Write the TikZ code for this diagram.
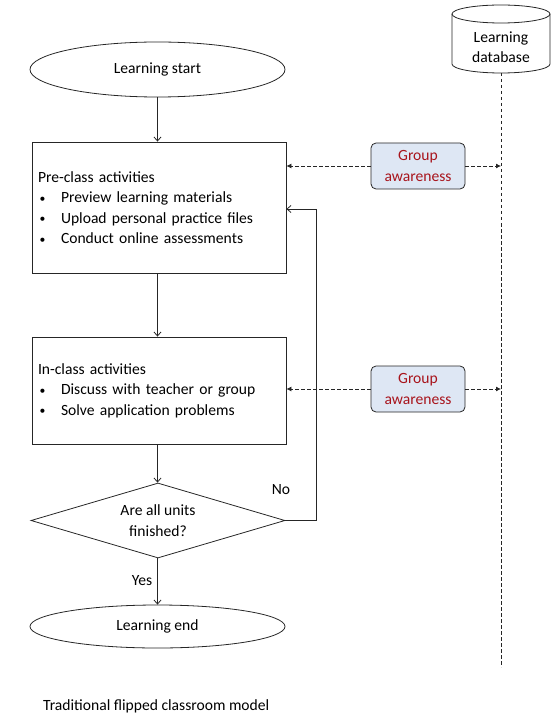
\documentclass[tikz,border=0pt]{standalone}
\usepackage{fontspec}
\setmainfont{Carlito}
\usetikzlibrary{shapes.geometric,arrows.meta}
\newcommand\itm{\makebox[23pt][l]{\hspace{1.5pt}\raisebox{0.5pt}{\scalebox{0.75}{•}}}}
\definecolor{gafill}{HTML}{DEE7F4}
\definecolor{gatext}{HTML}{A8141C}
\definecolor{ln}{HTML}{262626}
\begin{document}
\begin{tikzpicture}[x=1pt,y=-1pt,
  every node/.style={font=\fontsize{15.6}{20.5}\selectfont},
  term/.style={draw=ln, line width=0.8pt, ellipse, minimum width=255, inner sep=0pt},
  procbox/.style={draw=ln, line width=0.8pt, rectangle, minimum width=254, text width=242, inner xsep=6pt, align=left},
  decision/.style={draw=ln, line width=0.8pt, diamond, aspect=3.4, minimum width=254, minimum height=75, inner sep=0pt, align=center},
  gabox/.style={draw=ln, line width=0.8pt, rounded corners=5pt, fill=gafill, text=gatext, minimum width=94, minimum height=46, inner sep=0pt, align=center},
  arr/.style={draw=ln, line width=0.8pt, -{Straight Barb[length=4pt,width=7pt]}},
  darr/.style={draw=ln, line width=0.8pt, dash pattern=on 3.5pt off 2.5pt, -{Latex[length=5pt,width=5pt]}},
  lbl/.style={inner sep=0pt}]
\useasboundingbox (0,0) rectangle (556,727);
% main flow
\node[term, minimum height=55] (start) at (157.5,69.5) {Learning start};
\node[procbox, minimum height=131] (pre) at (159,207.5) {Pre-class activities\\
\itm Preview learning materials\\
\itm Upload personal practice files\\
\itm Conduct online assessments};
\node[procbox, minimum height=107] (in) at (159,390.5) {In-class activities\\
\itm Discuss with teacher or group\\
\itm Solve application problems};
\node[decision] (dec) at (158,520.5) {Are all units\\finished?};
\node[term, minimum height=43] (end) at (157.5,626.5) {Learning end};
\node[lbl] (yes) at (142,581) {Yes};
\node[lbl] (no) at (281,490) {No};
\coordinate (loop) at (316,209);
\draw[arr] (start.south) -- (start.south |- pre.north);
\draw[arr] (start.south |- pre.south) -- (start.south |- in.north);
\draw[arr] (start.south |- in.south) -- (start.south |- dec.north);
\draw[arr] (start.south |- dec.south) -- (start.south |- end.north);
\draw[arr] (dec.east) -| (loop) -- (loop -| pre.east);
% database
\coordinate (dbtop) at (501,14);
\coordinate (dbbot) at (501,73);
\coordinate (dbend) at (501,667);
\draw[ln, line width=0.8pt, fill=white] (452,14) -- (452,64) arc[start angle=180, end angle=360, x radius=49pt, y radius=9pt] -- (550,14);
\draw[ln, line width=0.8pt] (dbtop) circle[x radius=49pt, y radius=9pt];
\node[align=center, inner sep=0pt] (db) at (501,47) {Learning\\database};
\draw[ln, line width=0.8pt, dash pattern=on 3.5pt off 2.5pt] (dbbot) -- (dbend);
% group awareness
\node[gabox] (ga1) at (418,166) {Group\\awareness};
\node[gabox] (ga2) at (418,389) {Group\\awareness};
\draw[darr] (ga1.west) -- (ga1.west -| pre.east);
\draw[darr] (ga1.east) -- (ga1.east -| dbend);
\draw[darr] (ga2.west) -- (ga2.west -| in.east);
\draw[darr] (ga2.east) -- (ga2.east -| dbend);
% caption
\node[anchor=west, inner sep=0pt] (cap) at (43,706) {Traditional flipped classroom model};
\end{tikzpicture}
\end{document}
